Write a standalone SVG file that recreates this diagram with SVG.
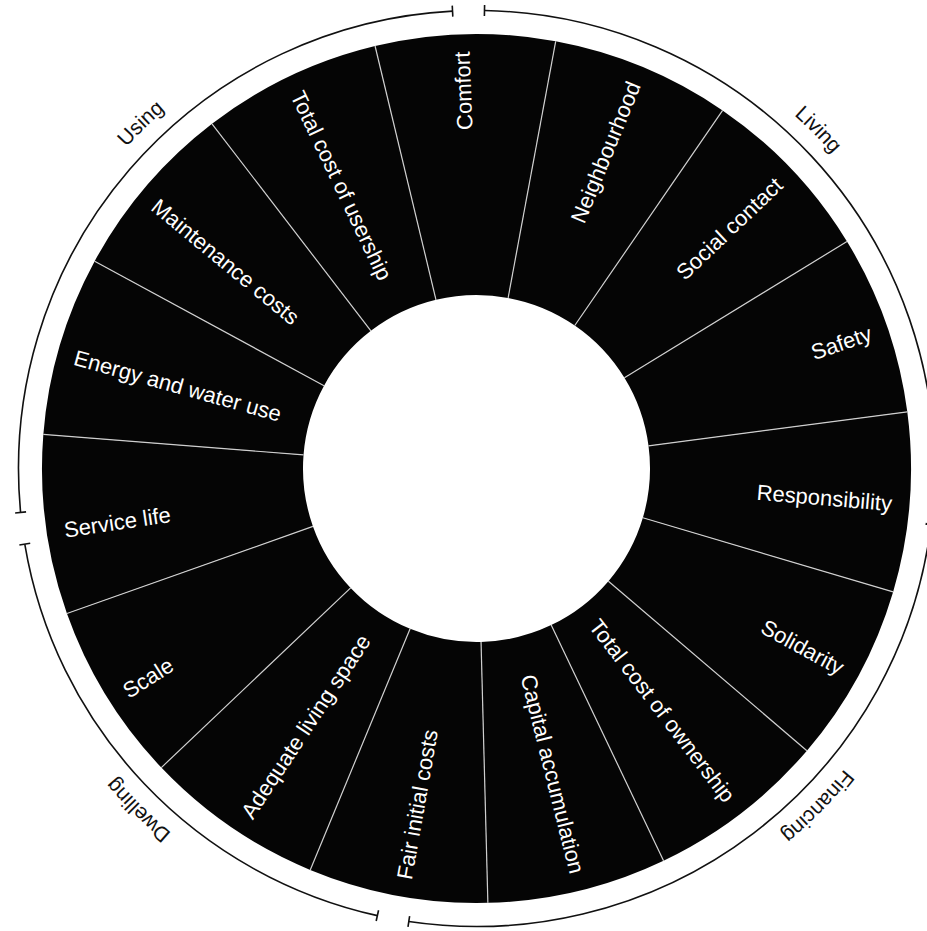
<svg xmlns="http://www.w3.org/2000/svg" width="927" height="931" viewBox="0 0 927 931">
<style>
.seg{fill:#050505}
.lbl{fill:#ffffff;font-family:"Liberation Sans",Arial,sans-serif;font-size:22px}
.div{stroke:#cfcfcf;stroke-width:1.2}
.arc{fill:none;stroke:#111111;stroke-width:1.6}
.tick{stroke:#111111;stroke-width:1.6}
.cat{fill:#111111;font-family:"Liberation Sans",Arial,sans-serif;font-size:21px}
</style>
<defs>
<path id="wedge" d="M 386.16 43.49 A 434.5 434.5 0 0 1 566.84 43.49 L 512.57 298.79 A 173.5 173.5 0 0 0 440.43 298.79 Z"/>
<path id="ring" d="M 476.5 -6.5 A 475 475 0 1 1 476.5 943.5 A 475 475 0 1 1 476.5 -6.5"/>
</defs>
<rect width="927" height="931" fill="#ffffff"/>

<g id="comfort"><use href="#wedge" class="seg" transform="rotate(358.5 476.5 468.5)"/><text class="lbl" transform="translate(476.5 468.5) rotate(268)" x="417" dy="0.35em" text-anchor="end">Comfort</text></g>
<g id="neighbourhood"><use href="#wedge" class="seg" transform="rotate(22.5 476.5 468.5)"/><text class="lbl" transform="translate(476.5 468.5) rotate(-67.8)" x="417" dy="0.35em" text-anchor="end">Neighbourhood</text></g>
<g id="social-contact"><use href="#wedge" class="seg" transform="rotate(46.5 476.5 468.5)"/><text class="lbl" transform="translate(476.5 468.5) rotate(-43.5)" x="417" dy="0.35em" text-anchor="end">Social contact</text></g>
<g id="safety"><use href="#wedge" class="seg" transform="rotate(70.5 476.5 468.5)"/><text class="lbl" transform="translate(476.5 468.5) rotate(-19)" x="417" dy="0.35em" text-anchor="end">Safety</text></g>
<g id="responsibility"><use href="#wedge" class="seg" transform="rotate(94.5 476.5 468.5)"/><text class="lbl" transform="translate(476.5 468.5) rotate(4.8)" x="417" dy="0.35em" text-anchor="end">Responsibility</text></g>
<g id="solidarity"><use href="#wedge" class="seg" transform="rotate(118.5 476.5 468.5)"/><text class="lbl" transform="translate(476.5 468.5) rotate(28.7)" x="417" dy="0.35em" text-anchor="end">Solidarity</text></g>
<g id="total-cost-of-ownership"><use href="#wedge" class="seg" transform="rotate(142.5 476.5 468.5)"/><text class="lbl" transform="translate(476.5 468.5) rotate(52.5)" x="417" dy="0.35em" text-anchor="end">Total cost of ownership</text></g>
<g id="capital-accumulation"><use href="#wedge" class="seg" transform="rotate(166.5 476.5 468.5)"/><text class="lbl" transform="translate(476.5 468.5) rotate(76)" x="417" dy="0.35em" text-anchor="end">Capital accumulation</text></g>
<g id="fair-initial-costs"><use href="#wedge" class="seg" transform="rotate(190.5 476.5 468.5)"/><text class="lbl" transform="translate(476.5 468.5) rotate(-80)" x="-417" dy="0.35em" text-anchor="start">Fair initial costs</text></g>
<g id="adequate-living-space"><use href="#wedge" class="seg" transform="rotate(214.5 476.5 468.5)"/><text class="lbl" transform="translate(476.5 468.5) rotate(-56.5)" x="-417" dy="0.35em" text-anchor="start">Adequate living space</text></g>
<g id="scale"><use href="#wedge" class="seg" transform="rotate(238.5 476.5 468.5)"/><text class="lbl" transform="translate(476.5 468.5) rotate(-32.5)" x="-417" dy="0.35em" text-anchor="start">Scale</text></g>
<g id="service-life"><use href="#wedge" class="seg" transform="rotate(262.5 476.5 468.5)"/><text class="lbl" transform="translate(476.5 468.5) rotate(-8.5)" x="-417" dy="0.35em" text-anchor="start">Service life</text></g>
<g id="energy-and-water-use"><use href="#wedge" class="seg" transform="rotate(286.5 476.5 468.5)"/><text class="lbl" transform="translate(476.5 468.5) rotate(15.5)" x="-417" dy="0.35em" text-anchor="start">Energy and water use</text></g>
<g id="maintenance-costs"><use href="#wedge" class="seg" transform="rotate(310.5 476.5 468.5)"/><text class="lbl" transform="translate(476.5 468.5) rotate(39.5)" x="-417" dy="0.35em" text-anchor="start">Maintenance costs</text></g>
<g id="total-cost-of-usership"><use href="#wedge" class="seg" transform="rotate(334.5 476.5 468.5)"/><text class="lbl" transform="translate(476.5 468.5) rotate(64.5)" x="-417" dy="0.35em" text-anchor="start">Total cost of usership</text></g>

<g id="connectors" class="div">
<line x1="476.5" y1="295" x2="476.5" y2="34" transform="rotate(10.5 476.5 468.5)"/>
<line x1="476.5" y1="295" x2="476.5" y2="34" transform="rotate(34.5 476.5 468.5)"/>
<line x1="476.5" y1="295" x2="476.5" y2="34" transform="rotate(58.5 476.5 468.5)"/>
<line x1="476.5" y1="295" x2="476.5" y2="34" transform="rotate(82.5 476.5 468.5)"/>
<line x1="476.5" y1="295" x2="476.5" y2="34" transform="rotate(106.5 476.5 468.5)"/>
<line x1="476.5" y1="295" x2="476.5" y2="34" transform="rotate(130.5 476.5 468.5)"/>
<line x1="476.5" y1="295" x2="476.5" y2="34" transform="rotate(154.5 476.5 468.5)"/>
<line x1="476.5" y1="295" x2="476.5" y2="34" transform="rotate(178.5 476.5 468.5)"/>
<line x1="476.5" y1="295" x2="476.5" y2="34" transform="rotate(202.5 476.5 468.5)"/>
<line x1="476.5" y1="295" x2="476.5" y2="34" transform="rotate(226.5 476.5 468.5)"/>
<line x1="476.5" y1="295" x2="476.5" y2="34" transform="rotate(250.5 476.5 468.5)"/>
<line x1="476.5" y1="295" x2="476.5" y2="34" transform="rotate(274.5 476.5 468.5)"/>
<line x1="476.5" y1="295" x2="476.5" y2="34" transform="rotate(298.5 476.5 468.5)"/>
<line x1="476.5" y1="295" x2="476.5" y2="34" transform="rotate(322.5 476.5 468.5)"/>
<line x1="476.5" y1="295" x2="476.5" y2="34" transform="rotate(346.5 476.5 468.5)"/>
</g>

<g id="living">
<path class="arc" d="M 484.49 10.57 A 458 458 0 0 1 933.87 492.47"/>
<line class="tick" x1="476.5" y1="5" x2="476.5" y2="16" transform="rotate(1 476.5 468.5)"/>
<line class="tick" x1="476.5" y1="5" x2="476.5" y2="16" transform="rotate(93 476.5 468.5)"/>
<text class="cat"><textPath href="#ring" startOffset="375" text-anchor="middle">Living</textPath></text>
</g>
<g id="financing">
<path class="arc" d="M 931.09 524.32 A 458 458 0 0 1 408.80 921.47"/>
<line class="tick" x1="476.5" y1="5" x2="476.5" y2="16" transform="rotate(97 476.5 468.5)"/>
<line class="tick" x1="476.5" y1="5" x2="476.5" y2="16" transform="rotate(188.5 476.5 468.5)"/>
<text class="cat"><textPath href="#ring" startOffset="1117" text-anchor="middle">Financing</textPath></text>
</g>
<g id="dwelling">
<path class="arc" d="M 377.37 915.64 A 458 458 0 0 1 24.78 544.09"/>
<line class="tick" x1="476.5" y1="5" x2="476.5" y2="16" transform="rotate(192.5 476.5 468.5)"/>
<line class="tick" x1="476.5" y1="5" x2="476.5" y2="16" transform="rotate(260.5 476.5 468.5)"/>
<text class="cat"><textPath href="#ring" startOffset="1863" text-anchor="middle">Dwelling</textPath></text>
</g>
<g id="using">
<path class="arc" d="M 20.61 512.40 A 458 458 0 0 1 452.53 11.13"/>
<line class="tick" x1="476.5" y1="5" x2="476.5" y2="16" transform="rotate(264.5 476.5 468.5)"/>
<line class="tick" x1="476.5" y1="5" x2="476.5" y2="16" transform="rotate(357 476.5 468.5)"/>
<text class="cat"><textPath href="#ring" startOffset="2618" text-anchor="middle">Using</textPath></text>
</g>
</svg>
